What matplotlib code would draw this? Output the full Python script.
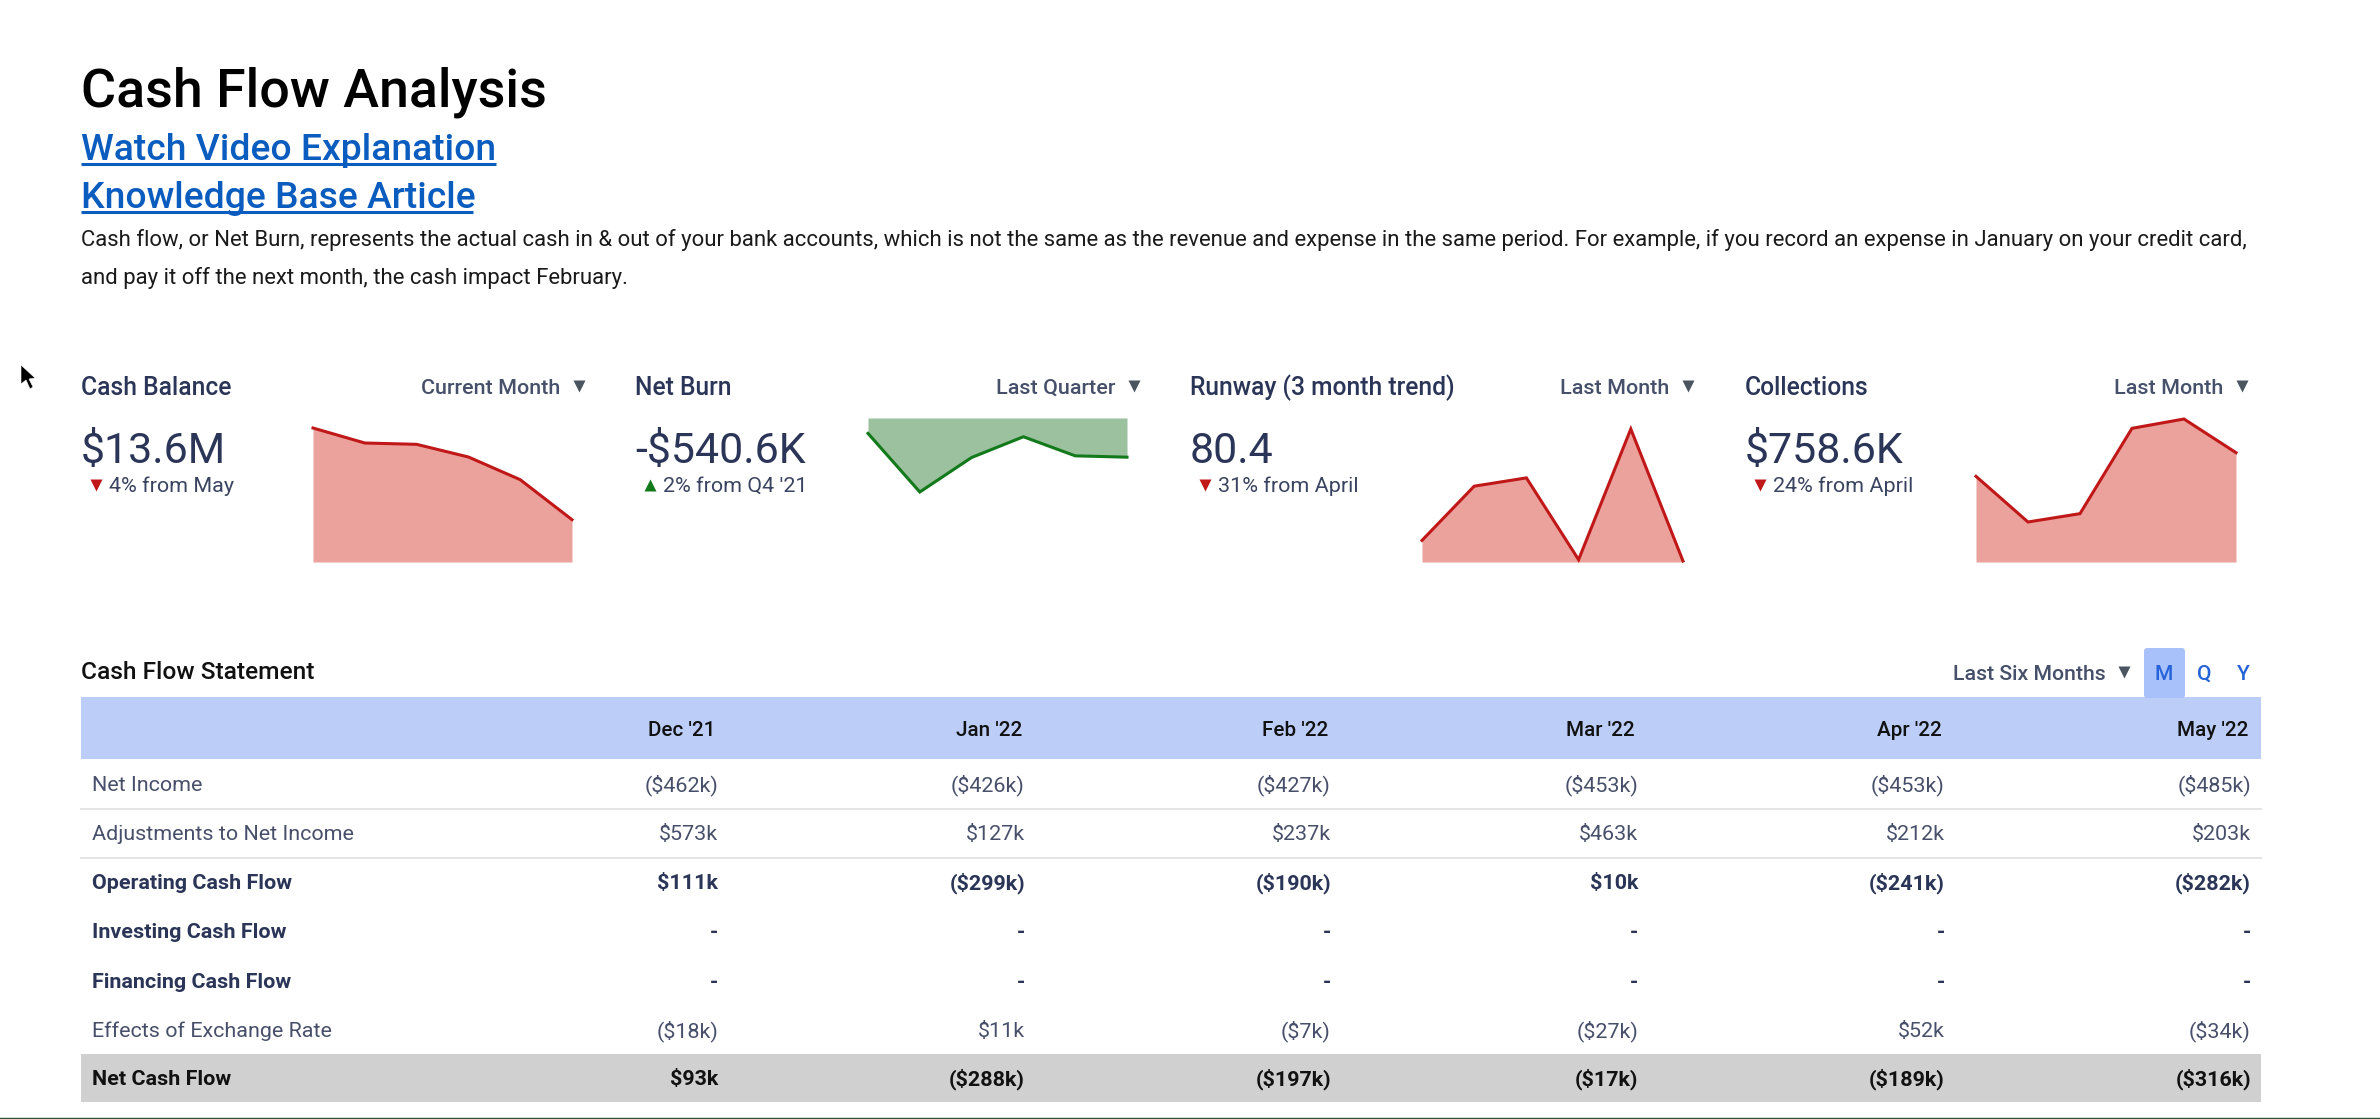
#!/usr/bin/python
import matplotlib
matplotlib.use('Agg')
import matplotlib.pyplot as plt
from matplotlib.patches import Rectangle, FancyBboxPatch, Polygon

W, H = 2380, 1119
FONT = 'Roboto'

# sparkline readings, relative height of each month in the card
cash_balance = [40.2, 35.7, 35.3, 31.5, 24.7, 12.7]
net_burn = [-4.6, -22.1, -11.8, -5.6, -11.3, -11.7]
runway = [6.5, 22.8, 25.3, 0.7, 40.0, 0.3]
collections = [25.7, 12.0, 14.5, 40.1, 42.9, 32.8]

card_titles = ['Cash Balance', 'Net Burn', 'Runway (3 month trend)', 'Collections']
card_periods = ['Current Month', 'Last Quarter', 'Last Month', 'Last Month']
card_values = ['$13.6M', '-$540.6K', '80.4', '$758.6K']
card_deltas = ['4% from May', "2% from Q4 '21", '31% from April', '24% from April']

months = ["Dec '21", "Jan '22", "Feb '22", "Mar '22", "Apr '22", "May '22"]
row_labels = ['Net Income', 'Adjustments to Net Income', 'Operating Cash Flow',
              'Investing Cash Flow', 'Financing Cash Flow',
              'Effects of Exchange Rate', 'Net Cash Flow']
net_income = ['($462k)', '($426k)', '($427k)', '($453k)', '($453k)', '($485k)']
adjustments = ['$573k', '$127k', '$237k', '$463k', '$212k', '$203k']
operating = ['$111k', '($299k)', '($190k)', '$10k', '($241k)', '($282k)']
investing = ['-', '-', '-', '-', '-', '-']
financing = ['-', '-', '-', '-', '-', '-']
exchange = ['($18k)', '$11k', '($7k)', '($27k)', '$52k', '($34k)']
net_cash = ['$93k', '($288k)', '($197k)', '($17k)', '($189k)', '($316k)']
table_rows = [net_income, adjustments, operating, investing, financing, exchange, net_cash]

NAVY = '#2A3557'
RED_LINE, RED_FILL = '#C01818', '#EBA29C'
GREEN_LINE, GREEN_FILL = '#137A1B', '#9BC19F'

fig = plt.figure(figsize=(W / 100, H / 100), dpi=100, facecolor='white')
page = fig.add_axes([0, 0, 1, 1])
page.set_xlim(0, W)
page.set_ylim(H, 0)
page.axis('off')


def put(x, y, s, px, color=NAVY, weight='normal', ha='left'):
    # x, y in image pixels, y is the baseline, px is the font size in pixels
    return page.text(x, y, s, fontsize=px * 0.72, color=color, fontweight=weight,
                     ha=ha, va='baseline', family=FONT)


def tri(x, y, color, marker='v', size=9):
    page.plot([x], [y], marker=marker, ms=size, color=color, mec='none', ls='none')


def spark(values, left, right, top, bottom, line, fill):
    ax = fig.add_axes([left / W, 1 - bottom / H, (right - left) / W, (bottom - top) / H])
    xs = list(range(len(values)))
    ax.fill_between(xs, values, 0, color=fill, lw=0)
    ax.plot(xs, values, color=line, lw=2.2, clip_on=False, solid_joinstyle='miter')
    ax.set_xlim(0, len(values) - 1)
    if max(values) <= 0:
        ax.set_ylim(min(values), 0)
    else:
        ax.set_ylim(0, max(values))
    ax.axis('off')


# header
put(81, 107, 'Cash Flow Analysis', 53.8, color='black', weight='medium')
put(81, 160, 'Watch Video Explanation', 37.2, color='#0B5CBF', weight='medium')
page.plot([81, 496], [164, 164], color='#0B5CBF', lw=2.2, solid_capstyle='butt')
put(81, 208, 'Knowledge Base Article', 37.2, color='#0B5CBF', weight='medium')
page.plot([81, 473], [212, 212], color='#0B5CBF', lw=2.2, solid_capstyle='butt')
put(81, 246, 'Cash flow, or Net Burn, represents the actual cash in & out of your bank accounts, '
    'which is not the same as the revenue and expense in the same period. For example, if you '
    'record an expense in January on your credit card,', 22.1, color='#1A1A1A')
put(81, 284, 'and pay it off the next month, the cash impact February.', 22.1, color='#1A1A1A')

# mouse pointer left in the screenshot
page.add_patch(Polygon([(21, 365), (21, 384), (26, 380), (30, 389), (33, 387), (29, 379), (35, 378)],
                       closed=True, fc='black', ec='white', lw=0.4))

# KPI cards
card_x = [81, 635, 1190, 1745]
period_end = [560, 1115, 1669, 2223]
down = [True, False, True, True]
for i in range(4):
    x = card_x[i]
    put(x, 395, card_titles[i], 24.6, weight='medium')
    put(period_end[i], 394, card_periods[i], 21.5, color='#46506A', ha='right', weight='medium')
    tri(period_end[i] + 19, 386, '#4A5560', size=8)
    put(x, 463, card_values[i], 43, weight='normal')
    color = RED_LINE if down[i] else GREEN_LINE
    tri(x + 15, 485, color, marker='v' if down[i] else '^', size=8.5)
    put(x + 28, 492, card_deltas[i], 21.5, color='#3A4460')

spark(cash_balance, 313, 572, 428, 562, RED_LINE, RED_FILL)
spark(net_burn, 868, 1127, 418, 492, GREEN_LINE, GREEN_FILL)
spark(runway, 1422, 1683, 429, 562, RED_LINE, RED_FILL)
spark(collections, 1976, 2236, 419, 562, RED_LINE, RED_FILL)

# statement table
put(81, 679, 'Cash Flow Statement', 24.5, color='#111111', weight='medium')
put(2106, 680, 'Last Six Months', 21.3, color='#46506A', ha='right', weight='medium')
tri(2124, 672, '#4A5560', size=8)
page.add_patch(FancyBboxPatch((2146, 650), 37, 46, boxstyle='round,pad=2,rounding_size=3',
                              fc='#A9C1FB', ec='none'))
for x, s in zip([2164, 2204, 2243], ['M', 'Q', 'Y']):
    put(x, 680, s, 21, color='#2563D8', ha='center', weight='medium')

page.add_patch(Rectangle((81, 697), 2180, 62, fc='#BCCDF7', ec='none', zorder=0))
page.add_patch(Rectangle((81, 1054), 2180, 48, fc='#D0D0D0', ec='none', zorder=0))
for y in [809, 858]:
    page.plot([81, 2261], [y, y], color='#E4E4E4', lw=1.4)

col_right = [718, 1025, 1331, 1638, 1945, 2251]
row_base = [791, 840, 889, 938, 988, 1037, 1085]
bold_rows = [2, 3, 4, 6]
for right, month in zip(col_right, months):
    put(right - 3, 736, month, 20.6, color='#111111', ha='right', weight='medium')
for r, label in enumerate(row_labels):
    bold = r in bold_rows
    weight = 'bold' if bold else 'normal'
    color = NAVY if bold else '#474F6A'
    if r == 6:
        color = '#111111'
    put(92, row_base[r], label, 21.5, color=color, weight=weight)
    for right, val in zip(col_right, table_rows[r]):
        put(right, row_base[r], val, 21.5, color=color, weight=weight, ha='right')

page.plot([0, W], [1118, 1118], color='#1F5A2A', lw=1)

fig.savefig('out.png', dpi=100)
